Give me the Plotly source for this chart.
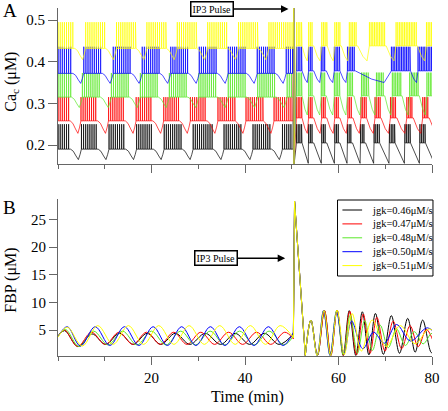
import plotly.graph_objects as go

# ---------------- data ----------------
series_names = ["jgk=0.46μM/s", "jgk=0.47μM/s", "jgk=0.48μM/s", "jgk=0.50μM/s", "jgk=0.51μM/s"]
series_colors = ["#000000", "#ff0000", "#5be82a", "#0000ff", "#ffff00"]

x_tick_vals = [20, 40, 60, 80]
ca_tick_vals = [0.2, 0.3, 0.4, 0.5]
fbp_tick_vals = [5, 10, 15, 20, 25]

pulse_time = 50.4          # min, IP3 pulse
ca_pulse_extremes = [0.54, 0.15]
fbp_pulse_t = [50.35, 50.6, 52.9]
fbp_pulse_peak = [28.3, 0.4]

# ---- FBP (µM): extrema before the pulse ----
fbp_pre_t_046 = [0.0, 1.4, 4.3, 7.25, 10.2, 13.15, 16.1, 19.05, 22.0, 25.1, 28.2, 31.5, 34.8, 37.9, 41.0, 44.15, 47.3, 50.35]
fbp_pre_v_046 = [3.9, 4.9, 2.0, 4.3, 2.4, 4.4, 2.4, 4.4, 2.4, 4.4, 2.4, 4.4, 2.4, 4.4, 2.4, 4.4, 2.4, 4.3]
fbp_pre_t_047 = [0.0, 1.4, 4.2, 7.15, 10.1, 13.05, 16.0, 18.95, 21.9, 24.75, 27.6, 30.55, 33.5, 36.5, 39.5, 42.5, 45.5, 48.5, 50.35]
fbp_pre_v_047 = [3.9, 5.0, 2.0, 4.6, 2.4, 4.6, 2.4, 4.6, 2.4, 4.6, 2.4, 4.6, 2.4, 4.6, 2.4, 4.6, 2.4, 4.6, 3.4]
fbp_pre_t_048 = [0.0, 1.6, 4.5, 7.6, 10.7, 13.8, 16.9, 20.0, 23.1, 26.25, 29.4, 32.55, 35.7, 38.85, 42.0, 45.15, 48.3, 50.35]
fbp_pre_v_048 = [3.9, 5.1, 2.0, 4.8, 2.3, 4.8, 2.3, 4.8, 2.3, 4.8, 2.3, 4.8, 2.3, 4.8, 2.3, 4.8, 2.3, 3.9]
fbp_pre_t_050 = [0.0, 2.0, 4.8, 7.95, 11.1, 14.2, 17.3, 20.35, 23.4, 26.45, 29.5, 32.6, 35.7, 38.8, 41.9, 45.0, 48.1, 50.35]
fbp_pre_v_050 = [3.8, 5.6, 2.1, 5.6, 2.2, 5.6, 2.2, 5.6, 2.2, 5.6, 2.2, 5.6, 2.2, 5.6, 2.2, 5.6, 2.2, 4.6]
fbp_pre_t_051 = [0.0, 2.0, 5.2, 8.5, 11.8, 15.05, 18.3, 21.55, 24.8, 28.05, 31.3, 34.6, 37.9, 41.15, 44.4, 47.5, 50.35]
fbp_pre_v_051 = [3.7, 5.5, 2.1, 5.8, 2.4, 5.8, 2.4, 5.8, 2.4, 5.8, 2.4, 5.8, 2.4, 5.8, 2.4, 5.8, 3.6]

# ---- FBP (µM): extrema after the pulse ----
fbp_post_t_046 = [52.9, 54.1, 55.5, 57.0, 58.35, 59.7, 61.0, 62.3, 63.7, 65.1, 66.5, 67.9, 69.6, 71.3, 73.05, 74.8, 76.4, 78.0, 79.9, 81.5]
fbp_post_v_046 = [0.4, 6.8, 0.4, 8.5, 0.4, 8.6, 0.4, 8.5, 0.4, 8.3, 0.5, 8.0, 0.6, 7.6, 0.8, 7.1, 1.0, 6.8, 0.9, 5.0]
fbp_post_t_047 = [52.9, 54.1, 55.5, 57.0, 58.35, 59.7, 61.05, 62.4, 63.85, 65.3, 66.75, 68.2, 69.95, 71.7, 73.5, 75.3, 77.05, 78.8, 80.5]
fbp_post_v_047 = [0.4, 6.8, 0.4, 8.5, 0.4, 8.6, 0.4, 8.4, 0.5, 7.9, 0.8, 7.3, 1.2, 6.6, 1.6, 5.8, 2.0, 5.1, 2.4]
fbp_post_t_048 = [52.9, 54.1, 55.45, 56.8, 58.2, 59.6, 61.05, 62.5, 64.05, 65.6, 67.25, 68.9, 70.65, 72.4, 74.3, 76.2, 78.1, 80.0, 81.8]
fbp_post_v_048 = [0.4, 6.8, 0.4, 8.5, 0.4, 8.5, 0.5, 7.7, 0.8, 6.7, 1.3, 5.9, 1.8, 5.2, 2.2, 4.7, 2.5, 4.4, 2.7]
fbp_post_t_050 = [52.9, 54.1, 55.45, 56.8, 58.2, 59.6, 61.2, 62.8, 65.2, 67.5, 69.8, 72.4, 75.4, 79.0, 81.5]
fbp_post_v_050 = [0.4, 6.8, 0.4, 8.5, 0.4, 8.3, 0.8, 6.6, 1.6, 4.6, 2.6, 6.0, 3.0, 5.4, 3.5]
fbp_post_t_051 = [52.9, 54.1, 55.45, 56.9, 58.3, 59.7, 61.25, 62.9, 64.9, 67.2, 70.2, 73.2, 76.4, 79.4, 82.0]
fbp_post_v_051 = [0.4, 6.8, 0.4, 8.5, 0.4, 8.6, 0.6, 8.0, 1.2, 6.8, 2.0, 5.8, 2.5, 5.2, 2.8]

# ---- Ca_c (µM): burst on/off times (min) and levels [spike top, plateau, trough] ----
ca_pre_on_046 = [0.0, 5.0, 10.9, 16.8, 22.7, 28.9, 35.5, 41.7, 48.0]
ca_pre_off_046 = [2.7, 8.6, 14.5, 20.4, 26.6, 33.2, 39.4, 45.7, 50.4]
ca_pre_on_047 = [0.0, 4.9, 10.8, 16.7, 22.6, 28.3, 34.2, 40.2, 46.2]
ca_pre_off_047 = [2.6, 8.5, 14.4, 20.3, 26.0, 31.9, 37.9, 43.9, 50.4]
ca_pre_on_048 = [0.0, 5.2, 11.4, 17.6, 23.8, 30.1, 36.4, 42.7, 49.0]
ca_pre_off_048 = [2.9, 9.1, 15.3, 21.5, 27.8, 34.1, 40.4, 46.7, 50.4]
ca_pre_on_050 = [0.0, 5.5, 11.8, 18.0, 24.1, 30.2, 36.4, 42.6, 48.8]
ca_pre_off_050 = [3.2, 9.5, 15.7, 21.8, 27.9, 34.1, 40.3, 46.5, 50.4]
ca_pre_on_051 = [0.0, 5.9, 12.5, 19.0, 25.5, 32.0, 38.6, 45.1]
ca_pre_off_051 = [3.6, 10.2, 16.7, 23.2, 29.7, 36.3, 42.8, 50.4]

ca_post_on_046 = [51.0, 53.6, 56.4, 59.2, 61.9, 64.7, 67.6, 70.9, 74.2, 77.4, 80.6]
ca_post_off_046 = [52.2, 54.7, 57.5, 60.3, 63.0, 65.8, 68.8, 72.1, 75.4, 78.6, 81.0]
ca_post_on_047 = [51.0, 53.6, 56.4, 59.2, 62.0, 64.8, 67.8, 71.1, 74.6, 78.0, 81.5]
ca_post_off_047 = [52.2, 54.7, 57.5, 60.3, 63.1, 66.0, 69.1, 72.5, 76.0, 79.4, 82.0]
ca_post_on_048 = [51.0, 53.6, 56.3, 59.1, 61.9, 64.9, 68.1, 71.5, 75.2, 78.9]
ca_post_off_048 = [52.2, 54.7, 57.4, 60.3, 63.3, 66.5, 69.9, 73.6, 77.3, 81.0]
ca_post_on_050 = [51.0, 53.6, 56.3, 59.1, 61.9, 71.3, 77.0]
ca_post_off_050 = [52.2, 54.7, 57.4, 60.3, 63.6, 75.4, 81.0]
ca_post_on_051 = [51.0, 53.6, 56.4, 59.2, 62.3, 66.6, 72.3, 78.8]
ca_post_off_051 = [52.2, 54.7, 57.6, 60.6, 64.1, 70.2, 76.9, 81.0]

ca_lv_pre_046 = [0.250, 0.190, 0.165]
ca_lv_post_046 = [0.250, 0.205, 0.156]
ca_lv_pre_047 = [0.315, 0.258, 0.228]
ca_lv_post_047 = [0.315, 0.265, 0.228]
ca_lv_pre_048 = [0.373, 0.315, 0.290]
ca_lv_post_048 = [0.374, 0.318, 0.272]
ca_lv_pre_050 = [0.436, 0.372, 0.348]
ca_lv_post_050 = [0.436, 0.378, 0.350]
ca_lv_pre_051 = [0.495, 0.432, 0.405]
ca_lv_post_051 = [0.495, 0.438, 0.402]

spike_gap_pre = 0.45
spike_gap_post = 0.36
# silent-phase profile: fraction of the gap, fraction of the drop to the trough
silent_u_pre = [0.0, 0.25, 0.5, 0.72, 0.88, 1.0]
silent_d_pre = [0.0, 0.2, 0.65, 1.0, 0.5, 0.0]
saw_u = [0.0, 0.95, 1.0]
saw_d = [0.0, 1.0, 0.0]
vee_u = [0.0, 0.45, 0.8, 1.0]
vee_d = [0.0, 0.7, 1.0, 0.15]


# ---------------- build helpers ----------------
def add_bursts(xs, ys, on_list, off_list, levels, gap, shape_u, shape_d):
    top, base, trough = levels
    for i, (a, b) in enumerate(zip(on_list, off_list)):
        t = a
        while t < b - 0.06:
            xs.extend([t, t + 0.02, t + 0.04])
            ys.extend([base, top, base])
            t += gap
        xs.append(b)
        ys.append(base)
        if i + 1 < len(on_list):
            nxt = on_list[i + 1]
            for u, d in zip(shape_u[1:-1], shape_d[1:-1]):
                xs.append(b + u * (nxt - b))
                ys.append(base - d * (base - trough))


def build_ca(pre_on, pre_off, lv_pre, post_on, post_off, lv_post, pu, pd):
    xs, ys = [], []
    add_bursts(xs, ys, pre_on, pre_off, lv_pre, spike_gap_pre, silent_u_pre, silent_d_pre)
    xs.extend([pulse_time + 0.02, pulse_time + 0.07, post_on[0] - 0.05])
    ys.extend([ca_pulse_extremes[0], ca_pulse_extremes[1], lv_post[1]])
    add_bursts(xs, ys, post_on, post_off, lv_post, spike_gap_post, pu, pd)
    return xs, ys


ca_inputs = [
    (ca_pre_on_046, ca_pre_off_046, ca_lv_pre_046, ca_post_on_046, ca_post_off_046, ca_lv_post_046, saw_u, saw_d),
    (ca_pre_on_047, ca_pre_off_047, ca_lv_pre_047, ca_post_on_047, ca_post_off_047, ca_lv_post_047, vee_u, vee_d),
    (ca_pre_on_048, ca_pre_off_048, ca_lv_pre_048, ca_post_on_048, ca_post_off_048, ca_lv_post_048, vee_u, vee_d),
    (ca_pre_on_050, ca_pre_off_050, ca_lv_pre_050, ca_post_on_050, ca_post_off_050, ca_lv_post_050, vee_u, vee_d),
    (ca_pre_on_051, ca_pre_off_051, ca_lv_pre_051, ca_post_on_051, ca_post_off_051, ca_lv_post_051, vee_u, vee_d),
]
fbp_inputs = [
    (fbp_pre_t_046, fbp_pre_v_046, fbp_post_t_046, fbp_post_v_046),
    (fbp_pre_t_047, fbp_pre_v_047, fbp_post_t_047, fbp_post_v_047),
    (fbp_pre_t_048, fbp_pre_v_048, fbp_post_t_048, fbp_post_v_048),
    (fbp_pre_t_050, fbp_pre_v_050, fbp_post_t_050, fbp_post_v_050),
    (fbp_pre_t_051, fbp_pre_v_051, fbp_post_t_051, fbp_post_v_051),
]

FONT = "Liberation Serif, Times New Roman, serif"
W, H = 448, 411
ML, MR, MT, MB = 58, 10, 8, 55
PW, PH = W - ML - MR, H - MT - MB


def px_x(p):
    return (p - ML) / PW


def px_y(p):
    return (H - MB - p) / PH


fig = go.Figure()

# Panel A traces
for name, color, args in zip(series_names, series_colors, ca_inputs):
    x, y = build_ca(*args)
    fig.add_trace(go.Scatter(x=x, y=y, mode="lines", name=name,
                             line=dict(color=color, width=0.7),
                             xaxis="x", yaxis="y", showlegend=False, hoverinfo="skip"))

# Panel B traces
for name, color, (pt, pv, qt, qv) in zip(series_names, series_colors, fbp_inputs):
    fig.add_trace(go.Scatter(x=pt, y=pv, mode="lines", name=name,
                             line=dict(color=color, width=1, shape="spline", smoothing=1.0),
                             xaxis="x2", yaxis="y2", showlegend=False))
    fig.add_trace(go.Scatter(x=[pt[-1], fbp_pulse_t[1], fbp_pulse_t[2]],
                             y=[pv[-1], fbp_pulse_peak[0], fbp_pulse_peak[1]],
                             mode="lines", name=name, line=dict(color=color, width=1),
                             xaxis="x2", yaxis="y2", showlegend=False))
    fig.add_trace(go.Scatter(x=qt, y=qv, mode="lines", name=name,
                             line=dict(color=color, width=1, shape="spline", smoothing=1.0),
                             xaxis="x2", yaxis="y2", showlegend=False))

axis_common = dict(showline=True, linecolor="#666666", linewidth=1, ticks="outside",
                   tickcolor="#666666", showgrid=False, zeroline=False,
                   tickfont=dict(family=FONT, size=15, color="black"))

fig.update_layout(
    width=W, height=H, autosize=False,
    margin=dict(l=ML, r=MR, t=MT, b=MB),
    paper_bgcolor="white", plot_bgcolor="white",
    font=dict(family=FONT, color="black"),
    showlegend=False,
    xaxis=dict(domain=[0, 1], range=[0, 80], anchor="y", tickvals=x_tick_vals,
               showticklabels=False, ticklen=8,
               minor=dict(dtick=10, tick0=0, ticks="outside", ticklen=4, tickcolor="#666666"),
               **axis_common),
    yaxis=dict(domain=[px_y(164), 1.0], range=[0.1544, 0.529], anchor="x",
               tickvals=ca_tick_vals, ticktext=["0.2", "0.3", "0.4", "0.5"], ticklen=9,
               **axis_common),
    xaxis2=dict(domain=[0, 1], range=[0, 80], anchor="y2", tickvals=x_tick_vals, ticklen=8,
                minor=dict(dtick=10, tick0=0, ticks="outside", ticklen=4, tickcolor="#666666"),
                **axis_common),
    yaxis2=dict(domain=[0.0, px_y(199)], range=[0.3, 28.7], anchor="x2",
                tickvals=fbp_tick_vals, ticklen=8, **axis_common),
)

# legend box (drawn like the original key)
shapes = [dict(type="rect", xref="paper", yref="paper",
               x0=px_x(342), x1=px_x(439), y0=px_y(276), y1=px_y(200),
               line=dict(color="black", width=1), fillcolor="white", layer="above")]
annotations = []
for i, (name, color) in enumerate(zip(series_names, series_colors)):
    yc = px_y(210 + 13.9 * i)
    shapes.append(dict(type="line", xref="paper", yref="paper",
                       x0=px_x(347), x1=px_x(367), y0=yc, y1=yc,
                       line=dict(color=color, width=1), layer="above"))
    annotations.append(dict(text=name, x=px_x(375), y=yc, xref="paper", yref="paper",
                            showarrow=False, xanchor="left", yanchor="middle",
                            font=dict(family=FONT, size=10.5, color="black")))

annotations += [
    dict(text="A", x=px_x(9), y=px_y(11), xref="paper", yref="paper", showarrow=False,
         xanchor="center", yanchor="middle", font=dict(family=FONT, size=19)),
    dict(text="B", x=px_x(8.5), y=px_y(207.5), xref="paper", yref="paper", showarrow=False,
         xanchor="center", yanchor="middle", font=dict(family=FONT, size=19)),
    dict(text="Ca<sub>c</sub> (μM)", x=px_x(10), y=px_y(82), xref="paper", yref="paper",
         showarrow=False, textangle=-90, xanchor="center", yanchor="middle",
         font=dict(family=FONT, size=16)),
    dict(text="FBP (μM)", x=px_x(10), y=px_y(280), xref="paper", yref="paper",
         showarrow=False, textangle=-90, xanchor="center", yanchor="middle",
         font=dict(family=FONT, size=16)),
    dict(text="Time (min)", x=px_x(251), y=px_y(397), xref="paper", yref="paper",
         showarrow=False, xanchor="center", yanchor="middle",
         font=dict(family=FONT, size=16)),
    dict(text="IP3 Pulse", x=49.3, y=0.5264, xref="x", yref="y", ax=-76, ay=0,
         showarrow=True, arrowhead=2, arrowsize=1, arrowwidth=1.5, arrowcolor="black",
         bordercolor="black", borderwidth=1.5, borderpad=1, bgcolor="white",
         font=dict(family=FONT, size=10, color="black")),
    dict(text="IP3 Pulse", x=48.6, y=18.0, xref="x2", yref="y2", ax=-69, ay=0,
         showarrow=True, arrowhead=2, arrowsize=1, arrowwidth=1.5, arrowcolor="black",
         bordercolor="black", borderwidth=1.5, borderpad=1, bgcolor="white",
         font=dict(family=FONT, size=10, color="black")),
]
fig.update_layout(shapes=shapes, annotations=annotations)

fig.write_html("out.html",
               config={"displayModeBar": False, "staticPlot": True},
               post_script="document.body.style.margin='0';document.body.style.overflow='hidden';")
